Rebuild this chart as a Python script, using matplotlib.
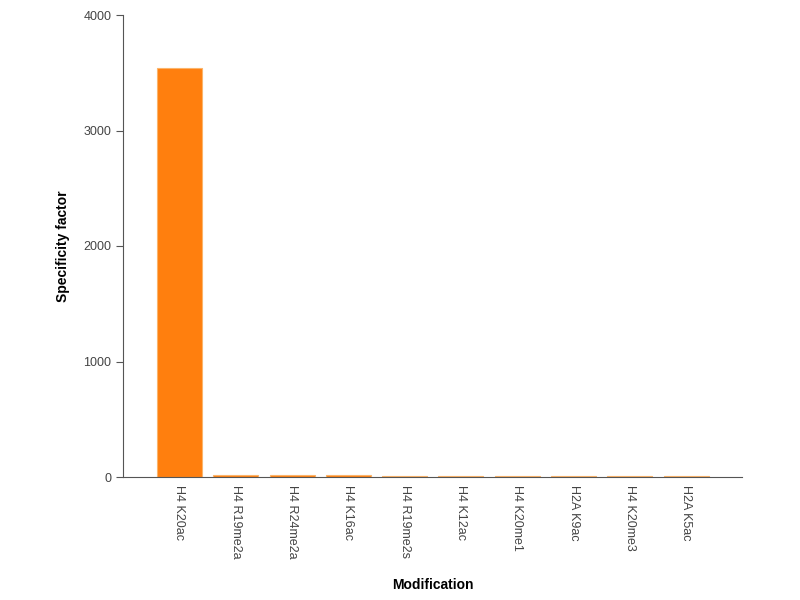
import matplotlib.pyplot as plt
import numpy as np

plt.rcParams['font.family'] = ['Liberation Sans', 'DejaVu Sans']

mods = ["H4 K20ac", "H4 R19me2a", "H4 R24me2a", "H4 K16ac", "H4 R19me2s",
        "H4 K12ac", "H4 K20me1", "H2A K9ac", "H4 K20me3", "H2A K5ac"]
values = [3540, 14, 13, 13, 12, 12, 12, 12, 11, 11]

fig = plt.figure(figsize=(8, 6), dpi=100)
ax = fig.add_axes([0.154, 0.205, 0.774, 0.77])

x = np.arange(len(mods))
ax.bar(x, values, width=0.8, color="#ff7f0e", edgecolor="#fbb46a", linewidth=0.8)

ax.set_xlim(-1, 10)
ax.set_ylim(0, 4000)
ax.set_yticks([0, 1000, 2000, 3000, 4000])
ax.set_xticks(x)
ax.set_xticklabels(mods, rotation=270, fontsize=9, color="#444444")
ax.tick_params(axis="y", labelsize=9, labelcolor="#444444", color="#555555", length=5)
ax.tick_params(axis="x", length=0, pad=6)

for s in ["top", "right"]:
    ax.spines[s].set_visible(False)
for s in ["left", "bottom"]:
    ax.spines[s].set_color("#555555")

ax.set_ylabel("Specificity factor", fontsize=10, fontweight="bold", labelpad=10)
ax.set_xlabel("Modification", fontsize=10, fontweight="bold", labelpad=14)

fig.savefig("out.png", dpi=100)
